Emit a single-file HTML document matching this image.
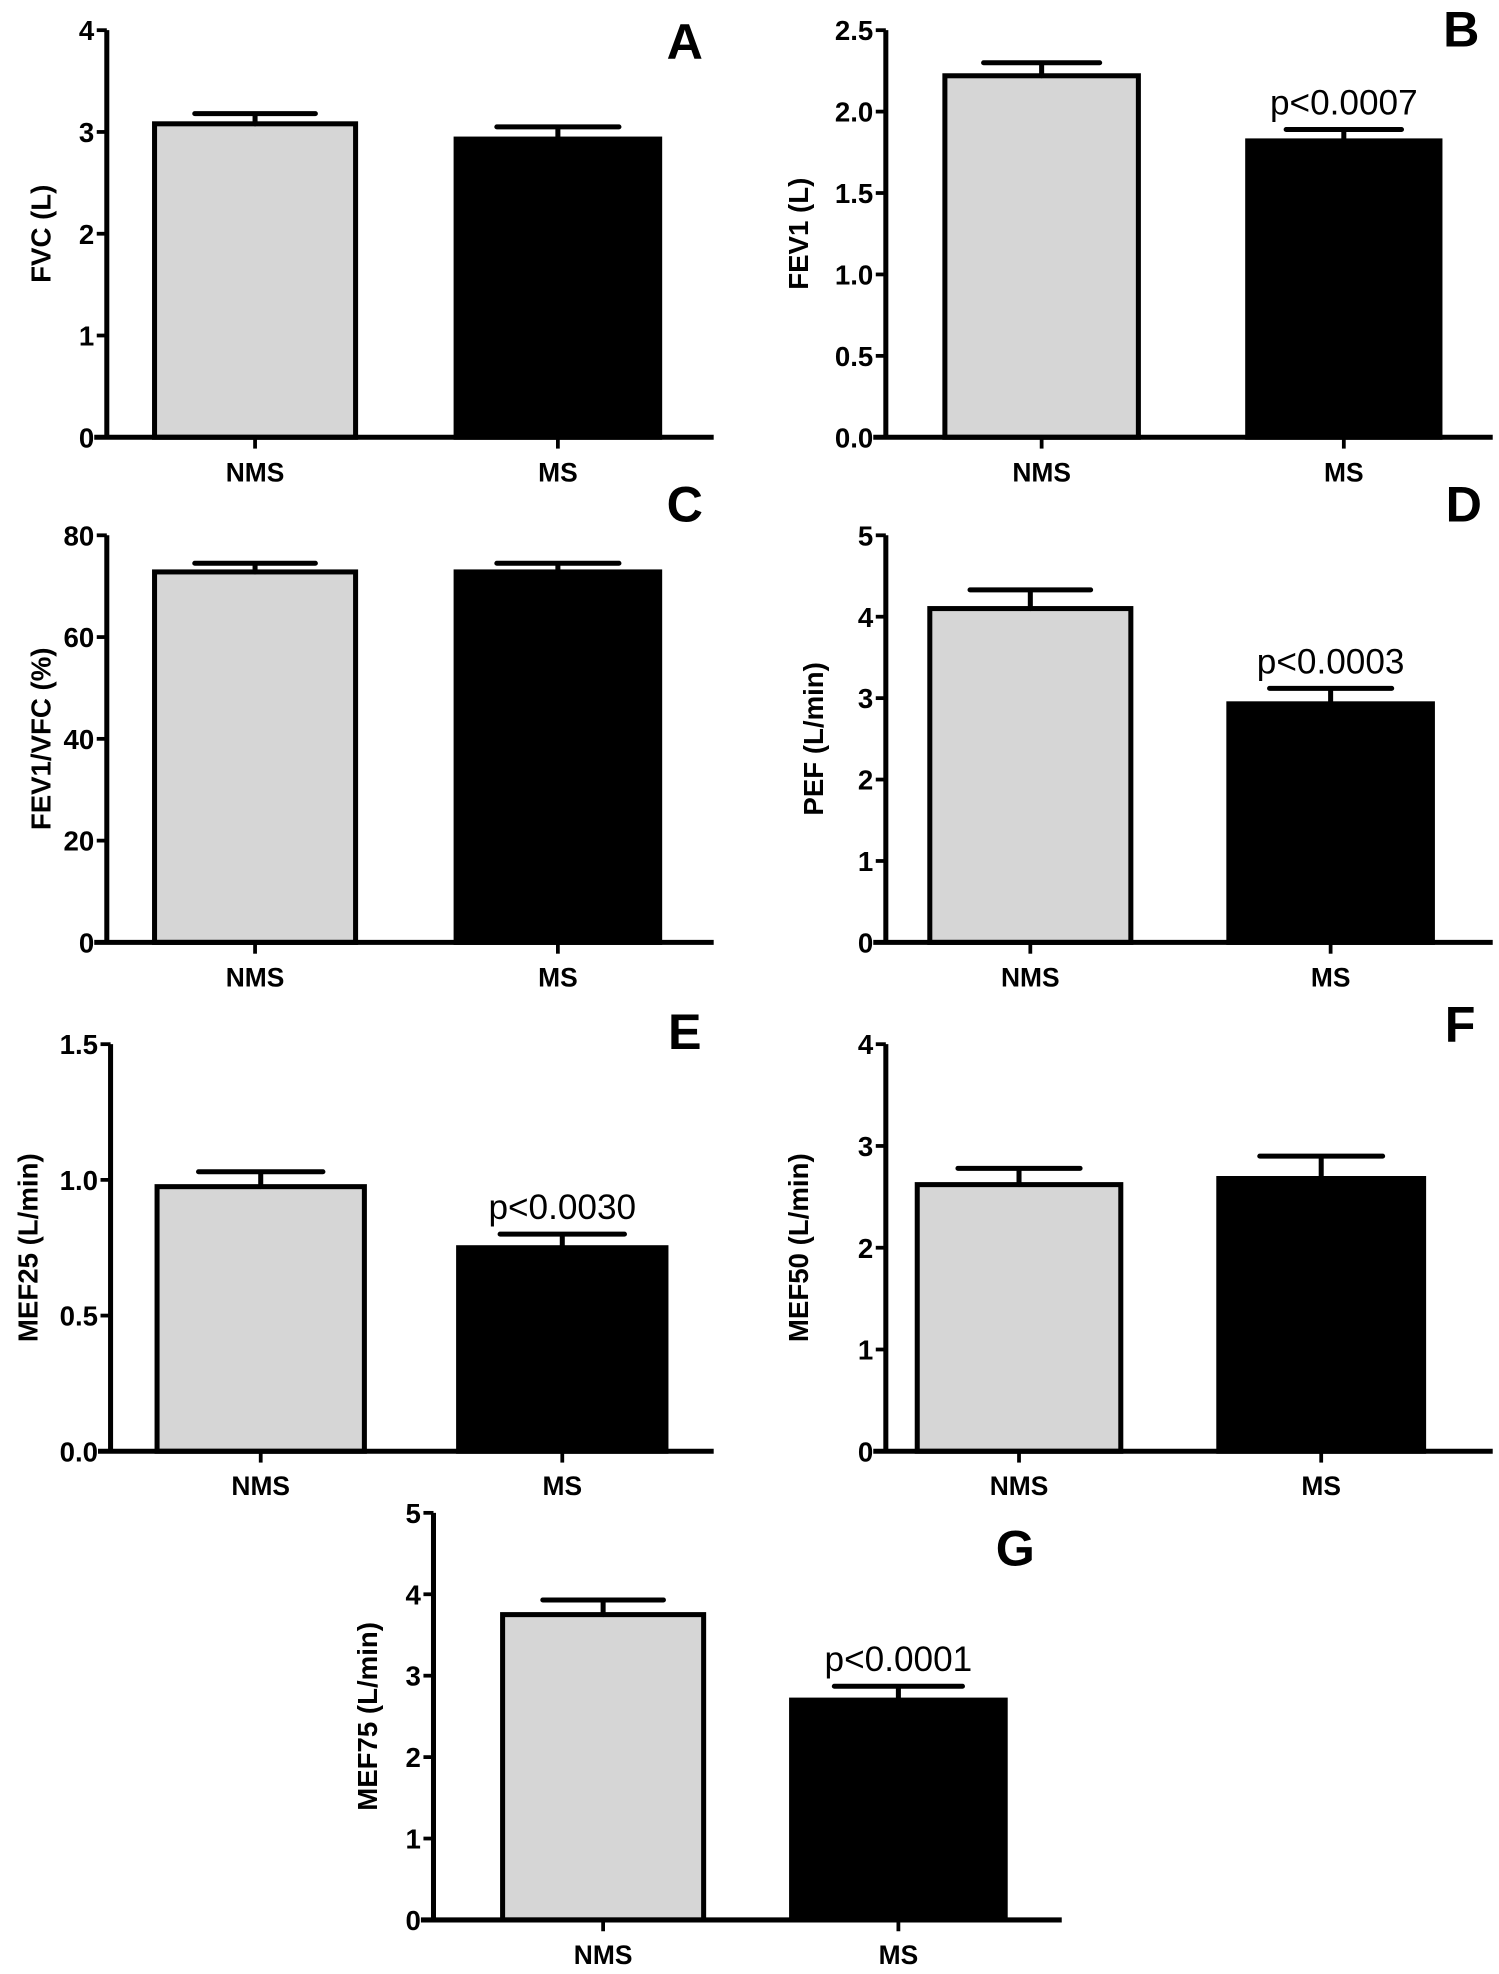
<!DOCTYPE html>
<html><head><meta charset="utf-8"><style>
html,body{margin:0;padding:0;background:#fff;}
svg{display:block;}
text{font-family:"Liberation Sans Narrow","Liberation Sans",sans-serif;}
</style></head><body>
<svg id="fig" width="1499" height="1974" viewBox="0 0 1193 1571" xmlns="http://www.w3.org/2000/svg"></svg>
<script>
const categories = ["NMS", "MS"];
const panelLetters = ["A","B","C","D","E","F","G"];
const yTitles = ["FVC (L)","FEV1 (L)","FEV1/VFC (%)","PEF (L/min)","MEF25 (L/min)","MEF50 (L/min)","MEF75 (L/min)"];
const nmsValues = [3.08, 2.22, 72.8, 4.10, 0.975, 2.62, 3.75];
const nmsErrors = [0.10, 0.08, 1.7, 0.23, 0.055, 0.16, 0.18];
const msValues = [2.93, 1.82, 72.8, 2.93, 0.75, 2.68, 2.70];
const msErrors = [0.12, 0.07, 1.7, 0.19, 0.05, 0.22, 0.17];
const yMax = [4, 2.5, 80, 5, 1.5, 4, 5];
const tickLabels = [
 ["0","1","2","3","4"],
 ["0.0","0.5","1.0","1.5","2.0","2.5"],
 ["0","20","40","60","80"],
 ["0","1","2","3","4","5"],
 ["0.0","0.5","1.0","1.5"],
 ["0","1","2","3","4"],
 ["0","1","2","3","4","5"]
];
const pLabels = ["", "p<0.0007", "", "p<0.0003", "p<0.0030", "", "p<0.0001"];

const layout = [
 {ax:85, top:24, bot:348, xEnd:568, b:[[123,283],[363,525]], lx:545, ly:47, tx:40},
 {ax:705, top:24, bot:348, xEnd:1188, b:[[752,906],[993,1146]], lx:1163, ly:37, tx:643},
 {ax:85, top:426, bot:750, xEnd:568, b:[[123,283],[363,525]], lx:545, ly:415, tx:40},
 {ax:705, top:426, bot:750, xEnd:1188, b:[[740,900],[978,1140]], lx:1165, ly:415, tx:655},
 {ax:88, top:831, bot:1155, xEnd:568, b:[[125,290],[365,530]], lx:545, ly:835, tx:30},
 {ax:705, top:831, bot:1155, xEnd:1188, b:[[730,892],[970,1133]], lx:1162, ly:829, tx:643},
 {ax:345, top:1204, bot:1528, xEnd:845, b:[[400,560],[630,800]], lx:808, ly:1246, tx:300}
];
const NS="http://www.w3.org/2000/svg";
const svg=document.getElementById('fig');
function mk(tag, attrs, parent){const e=document.createElementNS(NS,tag);for(const k in attrs)e.setAttribute(k,attrs[k]);(parent||svg).appendChild(e);return e;}

layout.forEach((L,i)=>{
  const g=mk('g',{});
  
  
  const y=v=>L.bot-(v/yMax[i])*(L.bot-L.top);
  const vals=[nmsValues[i],msValues[i]], errs=[nmsErrors[i],msErrors[i]];
  const fills=['#d6d6d6','#000'];
  vals.forEach((v,j)=>{
    const [x0,x1]=L.b[j], cx=(x0+x1)/2, hw=(x1-x0)*0.3;
    const r=mk('rect',{x:x0,y:y(v),width:x1-x0,height:L.bot-y(v),fill:fills[j],stroke:'#000','stroke-width':4},g);
    
    
    const e=mk('path',{d:`M${cx},${y(v)} V${y(v+errs[j])} M${cx-hw},${y(v+errs[j])} H${cx+hw}`,stroke:'#000','stroke-width':4,'stroke-linecap':'round',fill:'none'},g);
    
    
    mk('line',{x1:cx,x2:cx,y1:L.bot,y2:L.bot+9,stroke:'#000','stroke-width':3},g);
    const t=mk('text',{x:cx,y:L.bot+35,'text-anchor':'middle','font-size':21,'font-weight':'bold'},g);
    t.textContent=categories[j];
    
    
  });
  const ax=mk('path',{d:`M${L.ax},${L.top} V${L.bot} M${L.ax-10},${L.bot} H${L.xEnd}`,stroke:'#000','stroke-width':4,fill:'none'},g);
  
  
  const tl=tickLabels[i], n=tl.length-1;
  tl.forEach((lab,k)=>{
    const v=yMax[i]*k/n, yy=y(v);
    mk('line',{x1:L.ax-8,x2:L.ax,y1:yy,y2:yy,stroke:'#000','stroke-width':3},g);
    const t=mk('text',{x:L.ax-10,y:yy+8,'text-anchor':'end','font-size':22,'font-weight':'bold'},g);
    t.textContent=lab;
    
    
  });
  const cy=(L.top+L.bot)/2;
  const tt=mk('text',{x:L.tx,y:cy,'text-anchor':'middle','font-size':22,'font-weight':'bold',transform:`rotate(-90 ${L.tx} ${cy})`},g);
  tt.textContent=yTitles[i];
  
  
  const lt=mk('text',{x:L.lx,y:L.ly,'text-anchor':'middle','font-size':40,'font-weight':'bold'},g);
  lt.textContent=panelLetters[i];
  
  
  if(pLabels[i]){
    const [x0,x1]=L.b[1];
    const pt=mk('text',{x:(x0+x1)/2,y:y(msValues[i]+msErrors[i])-12,'text-anchor':'middle','font-size':28},g);
    pt.textContent=pLabels[i];
    
    
  }
});
</script>
</body></html>
